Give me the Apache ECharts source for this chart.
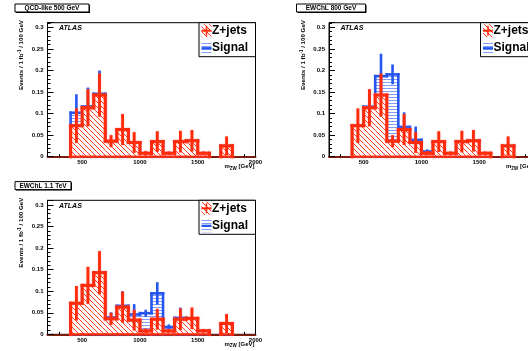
<!DOCTYPE html>
<html>
<head>
<meta charset="utf-8">
<script src="https://cdn.jsdelivr.net/npm/echarts@6/dist/echarts.min.js"></script>
<style>
  html, body { margin: 0; padding: 0; background: #fff; }
  #chart { width: 528px; height: 351px; }
</style>
</head>
<body>
<div id="chart"></div>
<script>
// Histogram bins in m_ZW (GeV), 100 GeV wide
const binLow  = [400, 500, 600, 700, 800, 900, 1000, 1100, 1200, 1300, 1400, 1500, 1600, 1700];
const binHigh = [500, 600, 700, 800, 900, 1000, 1100, 1200, 1300, 1400, 1500, 1600, 1700, 1800];

// Z+jets background (events / 1 fb^-1 / 100 GeV) and its uncertainty
const zjets    = [0.072, 0.1135, 0.143, 0.036, 0.063, 0.033, 0.008, 0.035, 0.008, 0.035, 0.037, 0.008, 0, 0.025];
const zjetsErr = [0.040, 0.043, 0.050, 0.014, 0.036, 0.024, 0.005, 0.024, 0.004, 0.025, 0.025, 0.004, 0, 0.022];

// Signal contributions stacked on Z+jets, with uncertainty on the stacked total
const sigQCD500    = [0.030, 0.003, 0.003, 0, 0, 0, 0, 0, 0, 0, 0, 0, 0, 0];
const totErrQCD500 = [0.043, 0.044, 0.054, 0.014, 0.036, 0.024, 0.005, 0.024, 0.004, 0.025, 0.025, 0.004, 0, 0.022];

const sigEW800     = [0, 0.0025, 0.044, 0.155, 0.006, 0.006, 0.004, 0, 0, 0, 0, 0, 0, 0];
const totErrEW800  = [0.040, 0.040, 0.052, 0.023, 0.034, 0.031, 0.005, 0.024, 0.004, 0.025, 0.025, 0.004, 0, 0.022];

const sigEW1100    = [0, 0, 0, 0.003, 0.003, 0.013, 0.041, 0.060, 0.009, 0.003, 0, 0, 0, 0];
const totErrEW1100 = [0.040, 0.043, 0.050, 0.012, 0.034, 0.024, 0.008, 0.026, 0.006, 0.024, 0.025, 0.004, 0, 0.022];

const panelTitles = ['QCD-like 500 GeV', 'EWChL 800 GeV', 'EWChL 1.1 TeV'];
const xTickValues = [500, 1000, 1500, 2000];
const legendLabels = ['Z+jets', 'Signal'];

const FONT = '"Liberation Sans", Arial, Helvetica, sans-serif';
const RED = '#ff2a08';
const RED_GLOW = 'rgba(255, 90, 90, 0.6)';
const BLUE = '#2456ee';
const ZERO_LINE = '#7d1d10';

// Hatch patterns
function makeDiagPattern() {
  const s = 5, c = document.createElement('canvas');
  c.width = s; c.height = s;
  const g = c.getContext('2d');
  g.fillStyle = '#fff'; g.fillRect(0, 0, s, s);
  g.strokeStyle = '#ff3a1c'; g.lineWidth = 1;
  for (let k = -1; k <= 1; k++) {
    g.beginPath(); g.moveTo(-1, -1 + s * k); g.lineTo(s + 1, s + 1 + s * k); g.stroke();
  }
  return { image: c, repeat: 'repeat' };
}
function makeHorizPattern() {
  const c = document.createElement('canvas');
  c.width = 4; c.height = 3;
  const g = c.getContext('2d');
  g.fillStyle = '#fff'; g.fillRect(0, 0, 4, 3);
  g.fillStyle = '#7f9cff'; g.fillRect(0, 1, 4, 1);
  return { image: c, repeat: 'repeat' };
}
const redHatch = makeDiagPattern();
const blueHatch = makeHorizPattern();

// Table rows for the custom series
function histRows(vals) {
  return vals.map((v, i) => [binLow[i], binHigh[i], v,
    i + 1 < vals.length ? vals[i + 1] : 0, i > 0 ? vals[i - 1] : 0]);
}
function errRows(vals, errs, keep) {
  const rows = [];
  vals.forEach((v, i) => { if (keep[i]) rows.push([(binLow[i] + binHigh[i]) / 2, v, errs[i]]); });
  return rows;
}

function fillItem(pattern) {
  return function (params, api) {
    const lo = api.value(0), hi = api.value(1), v = api.value(2);
    if (!(v > 0)) return;
    const a = api.coord([lo, v]), b = api.coord([hi, 0]);
    return { type: 'rect', shape: { x: a[0], y: a[1], width: b[0] - a[0], height: b[1] - a[1] },
      style: { fill: pattern } };
  };
}
function outlineItem(color, w, glow) {
  return function (params, api) {
    const lo = api.value(0), hi = api.value(1), v = api.value(2), vn = api.value(3), vp = api.value(4);
    const kids = [];
    const seg = (x1, y1, x2, y2, lw) => {
      const a = api.coord([x1, y1]), b = api.coord([x2, y2]);
      const st = { stroke: color, lineWidth: lw, lineCap: 'square' };
      if (glow) { st.shadowBlur = 1.5; st.shadowColor = glow; }
      kids.push({ type: 'line', shape: { x1: a[0], y1: a[1], x2: b[0], y2: b[1] }, style: st });
    };
    if (v > 0) { seg(lo, 0, hi, 0, 2); seg(lo, v, hi, v, w); }
    if (vn !== v) seg(hi, v, hi, vn, w);
    if (params.dataIndex === 0 && vp !== v) seg(lo, vp, lo, v, w);
    return { type: 'group', children: kids };
  };
}
function errItem(color, w, glow) {
  return function (params, api) {
    const x = api.value(0), v = api.value(1), e = api.value(2);
    const a = api.coord([x, Math.max(0, v - e)]), b = api.coord([x, v + e]);
    const st = { stroke: color, lineWidth: w };
    if (glow) { st.shadowBlur = 1.5; st.shadowColor = glow; }
    return { type: 'line', shape: { x1: a[0], y1: a[1], x2: b[0], y2: b[1] }, style: st };
  };
}

const panels = [
  { signal: sigQCD500, totErr: totErrQCD500, left: 47.5, top: 22.7, boxW: 74 },
  { signal: sigEW800, totErr: totErrEW800, left: 329, top: 22.7, boxW: 69 },
  { signal: sigEW1100, totErr: totErrEW1100, left: 47.5, top: 200.3, boxW: 56 }
];
const GW = 208, GH = 134;

const grids = [], xAxes = [], yAxes = [], series = [], graphics = [];
const labelStyle = { fontSize: 6, fontWeight: 'bold', color: '#000', fontFamily: FONT };

panels.forEach((p, i) => {
  grids.push({ left: p.left, top: p.top, width: GW, height: GH, show: true,
    outerBoundsMode: 'none', containLabel: false,
    borderColor: '#000', borderWidth: 1, backgroundColor: 'transparent' });

  // minor x ticks every 100 GeV, plus the zero line
  xAxes.push({ gridIndex: i, type: 'value', min: 200, max: 2000, interval: 100,
    axisLine: { show: true, lineStyle: { color: ZERO_LINE, width: 2 } },
    axisTick: { show: true, inside: true, length: 2.5, lineStyle: { color: '#000', width: 1 } },
    axisLabel: { show: false }, splitLine: { show: false } });
  // major x ticks and labels
  xAxes.push({ gridIndex: i, type: 'value', min: 200, max: 2000, position: 'bottom',
    axisLine: { show: false },
    axisTick: { show: true, inside: true, length: 4.5, customValues: xTickValues,
      lineStyle: { color: '#000', width: 1 } },
    axisLabel: Object.assign({ show: true, margin: 3, customValues: xTickValues,
      hideOverlap: false, formatter: function (v) { return String(v); } }, labelStyle),
    splitLine: { show: false } });

  yAxes.push({ gridIndex: i, type: 'value', min: 0, max: 0.311, interval: 0.05,
    axisLine: { show: true, lineStyle: { color: '#000', width: 1 } },
    axisTick: { show: true, inside: true, length: 6, lineStyle: { color: '#000', width: 1 } },
    minorTick: { show: true, splitNumber: 5, length: 3, lineStyle: { color: '#000', width: 1 } },
    axisLabel: Object.assign({ margin: 4, formatter: function (v) {
      const k = v / 0.05;
      return Math.abs(k - Math.round(k)) < 1e-6 ? String(+v.toFixed(2)) : '';
    } }, labelStyle),
    splitLine: { show: false }, minorSplitLine: { show: false } });

  const total = zjets.map((z, k) => +(z + p.signal[k]).toFixed(4));
  const xi = 2 * i, yi = i;
  const base = { type: 'custom', xAxisIndex: xi, yAxisIndex: yi, silent: true };
  series.push(Object.assign({ name: 'sigFill' + i, data: histRows(total), renderItem: fillItem(blueHatch) }, base));
  series.push(Object.assign({ name: 'sigLine' + i, data: histRows(total), renderItem: outlineItem(BLUE, 2.6) }, base));
  series.push(Object.assign({ name: 'sigErr' + i, data: errRows(total, p.totErr, p.signal.map(s => s > 0)), renderItem: errItem(BLUE, 2.6) }, base));
  series.push(Object.assign({ name: 'bkgFill' + i, data: histRows(zjets), renderItem: fillItem(redHatch) }, base));
  series.push(Object.assign({ name: 'bkgLine' + i, data: histRows(zjets), renderItem: outlineItem(RED, 3, RED_GLOW) }, base));
  series.push(Object.assign({ name: 'bkgErr' + i, data: errRows(zjets, zjetsErr, zjets.map(z => z > 0)), renderItem: errItem(RED, 2.8, RED_GLOW) }, base));

  // decorations: pad title box, ATLAS label, axis titles, legend
  const dx = p.left - 47.5, dy = p.top - 22.7;
  graphics.push({ type: 'rect', shape: { x: 16 + dx, y: 5 + dy, width: p.boxW, height: 8 }, style: { fill: '#000' } });
  graphics.push({ type: 'rect', shape: { x: 15 + dx, y: 4 + dy, width: p.boxW, height: 8 },
    style: { fill: '#fff', stroke: '#000', lineWidth: 1 } });
  graphics.push({ type: 'text', x: 15 + dx + p.boxW / 2, y: 8.2 + dy,
    style: { text: panelTitles[i], font: 'bold 6.5px ' + FONT, fill: '#000',
      align: 'center', verticalAlign: 'middle', textAlign: 'center', textVerticalAlign: 'middle' } });
  graphics.push({ type: 'text', x: 59 + dx, y: 28.5 + dy,
    style: { text: 'ATLAS', font: 'italic bold 7px ' + FONT, fill: '#000',
      align: 'left', verticalAlign: 'middle', textAlign: 'left', textVerticalAlign: 'middle' } });
  graphics.push({ type: 'text', x: 21.5 + dx, y: 20 + dy, rotation: Math.PI / 2,
    style: { text: 'Events / 1 fb{sup|-1} / 100 GeV', font: 'bold 6.2px ' + FONT, fill: '#000',
      align: 'right', verticalAlign: 'middle', textAlign: 'right', textVerticalAlign: 'middle',
      rich: { sup: { fontSize: 4.5, fontWeight: 'bold', fontFamily: FONT, fill: '#000', padding: [0, 0, 3, 0] } } } });
  graphics.push({ type: 'text', x: 254.5 + dx, y: 166.8 + dy,
    style: { text: 'm{sub|ZW} [GeV]', font: 'bold 6px ' + FONT, fill: '#000',
      align: 'right', verticalAlign: 'middle', textAlign: 'right', textVerticalAlign: 'middle',
      rich: { sub: { fontSize: 4.5, fontWeight: 'bold', fontFamily: FONT, fill: '#000', padding: [3, 0, 0, 0] } } } });

  const lx = 199 + dx, ly = p.top;
  graphics.push({ type: 'rect', shape: { x: lx, y: ly, width: 56.5, height: 34 },
    style: { fill: '#fff', stroke: '#000', lineWidth: 1 } });
  // Z+jets entry
  graphics.push({ type: 'rect', shape: { x: lx + 2.5, y: ly + 1.5, width: 10, height: 13 }, style: { fill: redHatch } });
  graphics.push({ type: 'line', shape: { x1: lx + 2.5, y1: ly + 8, x2: lx + 12.5, y2: ly + 8 }, style: { stroke: RED, lineWidth: 2 } });
  graphics.push({ type: 'line', shape: { x1: lx + 7.5, y1: ly + 3, x2: lx + 7.5, y2: ly + 13 }, style: { stroke: RED, lineWidth: 1.5 } });
  graphics.push({ type: 'text', x: lx + 13, y: ly + 8.3,
    style: { text: legendLabels[0], font: 'bold 12px ' + FONT, fill: '#000',
      align: 'left', verticalAlign: 'middle', textAlign: 'left', textVerticalAlign: 'middle' } });
  // Signal entry
  graphics.push({ type: 'rect', shape: { x: lx + 2.5, y: ly + 19, width: 10, height: 13 }, style: { fill: blueHatch } });
  graphics.push({ type: 'line', shape: { x1: lx + 2.5, y1: ly + 25.5, x2: lx + 12.5, y2: ly + 25.5 }, style: { stroke: BLUE, lineWidth: 2.2 } });
  graphics.push({ type: 'text', x: lx + 13, y: ly + 25.3,
    style: { text: legendLabels[1], font: 'bold 12px ' + FONT, fill: '#000',
      align: 'left', verticalAlign: 'middle', textAlign: 'left', textVerticalAlign: 'middle' } });
});

const chart = echarts.init(document.getElementById('chart'), null, { renderer: 'canvas' });
chart.setOption({
  animation: false,
  backgroundColor: '#fff',
  grid: grids,
  xAxis: xAxes,
  yAxis: yAxes,
  series: series,
  graphic: { elements: graphics }
});
</script>
</body>
</html>
